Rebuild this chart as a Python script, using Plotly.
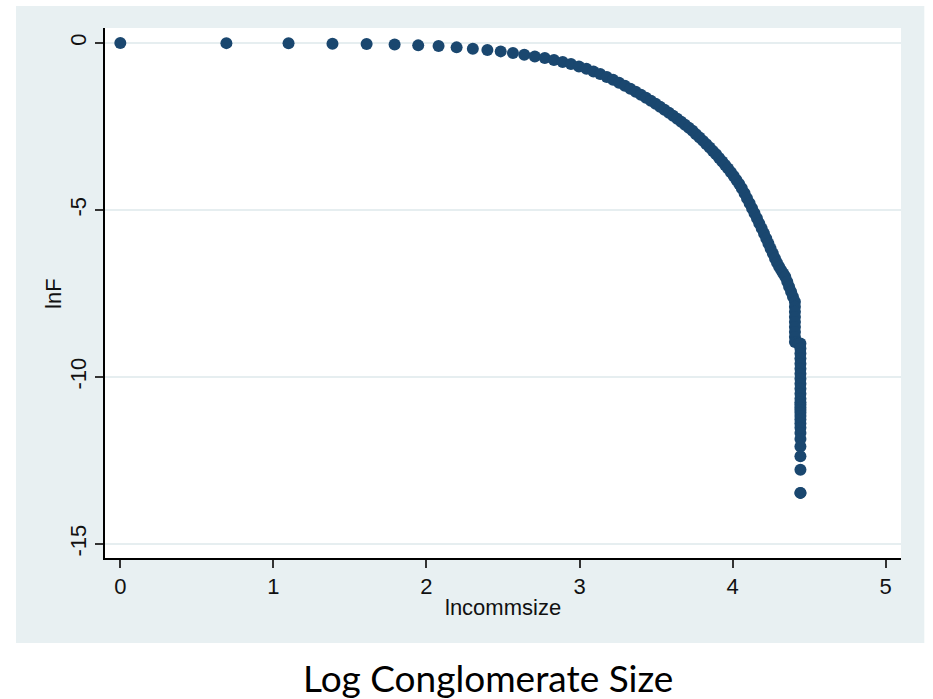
import plotly.graph_objects as go

# ---- data ----
lncommsize = [
    0.000, 0.693, 1.099, 1.386, 1.609, 1.792, 1.946, 2.079, 2.197, 2.303,
    2.398, 2.485, 2.565, 2.639, 2.708, 2.773, 2.833, 2.890, 2.944, 2.996,
    3.045, 3.091, 3.135, 3.178, 3.219, 3.258, 3.296, 3.332, 3.367, 3.401,
    3.434, 3.466, 3.497, 3.526, 3.555, 3.584, 3.611, 3.638, 3.664, 3.689,
    3.714, 3.738, 3.761, 3.784, 3.807, 3.829, 3.850, 3.871, 3.892, 3.912,
    3.932, 3.951, 3.970, 3.989, 4.007, 4.025, 4.043, 4.060, 4.078, 4.094,
    4.111, 4.127, 4.143, 4.159, 4.174, 4.190, 4.205, 4.220, 4.234, 4.248,
    4.263, 4.277, 4.290, 4.304, 4.317, 4.331, 4.344, 4.357, 4.369, 4.382,
    4.394,
    4.407, 4.407, 4.407, 4.407, 4.407, 4.407, 4.407, 4.407, 4.407,
    4.419, 4.431,
    4.443, 4.443, 4.443, 4.443, 4.443, 4.443, 4.443, 4.443, 4.443, 4.443,
    4.443, 4.443, 4.443, 4.443, 4.443, 4.443, 4.443, 4.443, 4.443, 4.443,
    4.443, 4.443, 4.443, 4.443, 4.443, 4.443, 4.443, 4.443,
]
lnF = [
    0.000, -0.003, -0.010, -0.020, -0.030, -0.045, -0.070, -0.090, -0.130, -0.170,
    -0.210, -0.250, -0.300, -0.350, -0.400, -0.450, -0.510, -0.570, -0.630, -0.700,
    -0.770, -0.850, -0.930, -1.020, -1.100, -1.190, -1.280, -1.370, -1.460, -1.550,
    -1.640, -1.730, -1.820, -1.910, -2.000, -2.090, -2.180, -2.270, -2.360, -2.450,
    -2.540, -2.630, -2.730, -2.830, -2.930, -3.030, -3.130, -3.230, -3.330, -3.440,
    -3.550, -3.650, -3.760, -3.870, -3.980, -4.100, -4.220, -4.350, -4.500, -4.650,
    -4.800, -4.950, -5.100, -5.250, -5.400, -5.550, -5.700, -5.850, -6.000, -6.150,
    -6.300, -6.450, -6.580, -6.700, -6.800, -6.900, -7.000, -7.150, -7.300, -7.450,
    -7.600,
    -7.750, -7.900, -8.050, -8.200, -8.350, -8.500, -8.650, -8.800, -8.950,
    -8.950, -9.000,
    -9.000, -9.150, -9.300, -9.450, -9.600, -9.750, -9.900, -10.050, -10.200, -10.350,
    -10.500, -10.650, -10.760, -10.830, -10.910, -10.990, -11.070, -11.170, -11.270, -11.390,
    -11.520, -11.680, -11.860, -12.080, -12.370, -12.780, -13.470, -13.470,
]
x_ticks = [0, 1, 2, 3, 4, 5]
y_ticks = [0, -5, -10, -15]
x_title = "lncommsize"
y_title = "lnF"
caption = "Log Conglomerate Size"

NAVY = "#1a476f"
PANEL = "#e8f0f2"
GRID = "#e6eef0"

fig = go.Figure()
fig.add_trace(go.Scatter(
    x=lncommsize, y=lnF, mode="markers",
    marker=dict(color=NAVY, size=12, line=dict(width=0)),
    showlegend=False, hoverinfo="x+y",
))

# plot region geometry (pixels) -> paper coordinates
L, R, T, B = 105, 900.7, 28, 558
W, H = 933, 699
pw, ph = R - L, B - T

def px(xp):
    return (xp - L) / pw

def py(yp):
    return (B - yp) / ph

# light panel behind the graph, white plot region on top
fig.add_shape(type="rect", xref="paper", yref="paper",
              x0=px(16), x1=px(924), y0=py(643), y1=py(6),
              fillcolor=PANEL, line=dict(width=0), layer="below")
fig.add_shape(type="rect", xref="paper", yref="paper",
              x0=0, x1=1, y0=0, y1=1,
              fillcolor="white", line=dict(width=0), layer="below")

font_ax = dict(family="Liberation Sans, Arial, sans-serif", size=22, color="#111111")

fig.update_xaxes(
    range=[-0.1, 5.1], tickvals=x_ticks, ticktext=[str(t) for t in x_ticks],
    showgrid=False, zeroline=False,
    showline=True, linecolor="black", linewidth=1.5,
    ticks="outside", ticklen=8, tickwidth=1.5, tickcolor="#333333",
    tickfont=font_ax,
)
fig.update_yaxes(
    range=[-15.42, 0.45], tickvals=y_ticks, ticktext=[str(t) for t in y_ticks],
    showgrid=True, gridcolor=GRID, gridwidth=2, zeroline=False,
    showline=True, linecolor="black", linewidth=1.5,
    ticks="outside", ticklen=8, tickwidth=1.5, tickcolor="#333333",
    tickfont=font_ax, tickangle=-90,
)

fig.add_annotation(text=x_title, xref="paper", yref="paper",
                   x=px(503), y=py(607), xanchor="center", yanchor="middle",
                   showarrow=False, font=font_ax)
fig.add_annotation(text=y_title, xref="paper", yref="paper",
                   x=px(53), y=py(293), xanchor="center", yanchor="middle",
                   textangle=-90, showarrow=False, font=font_ax)
fig.add_annotation(text=caption, xref="paper", yref="paper",
                   x=px(488), y=py(677), xanchor="center", yanchor="middle",
                   showarrow=False,
                   font=dict(family="Lato, Open Sans, sans-serif", size=37, color="black"))

fig.update_layout(
    width=W, height=H,
    margin=dict(l=L, r=W - R, t=T, b=H - B, autoexpand=False),
    paper_bgcolor="white", plot_bgcolor="white",
)

fig.write_html("out.html",
               config={"displayModeBar": False},
               post_script="document.body.style.margin='0';document.body.style.overflow='hidden';")
